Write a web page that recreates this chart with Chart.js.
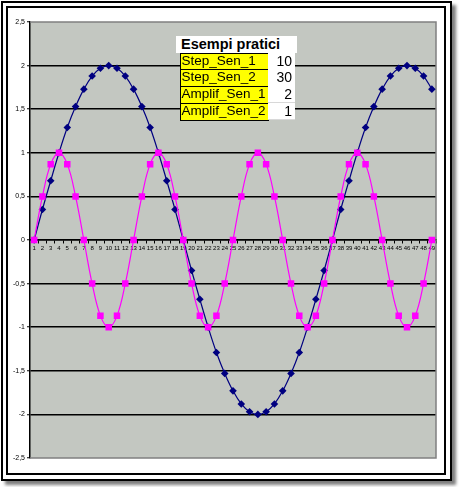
<!DOCTYPE html>
<html>
<head>
<meta charset="utf-8">
<script src="https://cdn.jsdelivr.net/npm/chart.js@4/dist/chart.umd.min.js"></script>
<style>
  html, body { margin:0; padding:0; background:#fff; width:459px; height:487px; overflow:hidden; }
  #outer { position:absolute; left:1px; top:1px; width:447px; height:476px; border:2px solid #000; box-shadow:4px 4px 3px rgba(0,0,0,0.5); background:#fff; }
  #inner { position:absolute; left:6px; top:6px; width:436px; height:465px; border:2px solid #000; background:#fff; }
  #cv { position:absolute; left:0; top:0; }
  .cell { position:absolute; box-sizing:border-box; font-family:"Liberation Sans", Arial, sans-serif; font-size:13.5px; color:#000; white-space:nowrap; line-height:14px; }
  .title { background:#fff; font-weight:bold; font-size:14.5px; padding-left:5px; line-height:17px; }
  .lab { background:#ffff00; border:1px solid #000; padding-left:1px; }
  .val { background:#fff; border-bottom:1px solid #d8d8d8; text-align:right; padding-right:3px; font-size:14px; padding-top:1px; }
</style>
</head>
<body>
<div id="outer"></div>
<div id="inner"></div>
<canvas id="cv" width="459" height="487"></canvas>
<div id="tbl"></div>
<script>
// ---- data ----
const categories = ['1','2','3','4','5','6','7','8','9','10','11','12','13','14','15','16','17','18','19','20','21','22','23','24','25','26','27','28','29','30','31','32','33','34','35','36','37','38','39','40','41','42','43','44','45','46','47','48','49'];
const seriesSen1 = [0,0.35,0.68,1.00,1.29,1.53,1.73,1.88,1.97,2.00,1.97,1.88,1.73,1.53,1.29,1.00,0.68,0.35,0,
  -0.35,-0.68,-1.00,-1.29,-1.53,-1.73,-1.88,-1.97,-2.00,-1.97,-1.88,-1.73,-1.53,-1.29,-1.00,-0.68,-0.35,0,
  0.35,0.68,1.00,1.29,1.53,1.73,1.88,1.97,2.00,1.97,1.88,1.73];
const seriesSen2 = [0,0.5,0.87,1,0.87,0.5,0,-0.5,-0.87,-1,-0.87,-0.5,
  0,0.5,0.87,1,0.87,0.5,0,-0.5,-0.87,-1,-0.87,-0.5,
  0,0.5,0.87,1,0.87,0.5,0,-0.5,-0.87,-1,-0.87,-0.5,
  0,0.5,0.87,1,0.87,0.5,0,-0.5,-0.87,-1,-0.87,-0.5,0];
const yTicks = [-2.5,-2,-1.5,-1,-0.5,0,0.5,1,1.5,2,2.5];
const tableTitle = 'Esempi pratici';
const tableLabels = ['Step_Sen_1','Step_Sen_2','Amplif_Sen_1','Amplif_Sen_2'];
const tableValues = [10,30,2,1];

// ---- table overlay ----
(function(){
  const t = document.getElementById('tbl');
  const mk = (cls, txt, l, tp, w, h) => {
    const d = document.createElement('div');
    d.className = 'cell ' + cls; d.textContent = txt;
    d.style.left = l+'px'; d.style.top = tp+'px'; d.style.width = w+'px'; d.style.height = h+'px';
    t.appendChild(d);
  };
  mk('title', tableTitle, 176, 36, 121, 17);
  const rowTops = [52.5, 69.3, 86.1, 102.9];
  tableLabels.forEach((lb, i) => {
    mk('lab', lb, 179.5, rowTops[i], 89, 17.8);
    mk('val', String(tableValues[i]), 268, rowTops[i], 27, 17.3);
  });
})();

// ---- chart ----
const plotBg = {
  id:'plotBg',
  beforeDraw(chart){
    const {ctx, chartArea:a} = chart;
    ctx.save(); ctx.fillStyle = '#c3c7c1';
    ctx.fillRect(a.left, a.top, a.right-a.left, a.bottom-a.top);
    ctx.restore();
  },
  beforeDatasetsDraw(chart){
    const {ctx, chartArea:a} = chart;
    ctx.save(); ctx.strokeStyle = '#808080'; ctx.lineWidth = 1.5;
    ctx.beginPath();
    ctx.moveTo(a.left, a.top); ctx.lineTo(a.right, a.top); ctx.lineTo(a.right, a.bottom); ctx.lineTo(a.left, a.bottom);
    ctx.stroke(); ctx.restore();
  }
};

new Chart(document.getElementById('cv'), {
  type:'line',
  data:{
    labels: categories,
    datasets:[
      { label:'Sen_1', data: seriesSen1, borderColor:'#000080', backgroundColor:'#000080', borderWidth:1.2,
        pointStyle:'rectRot', pointRadius:3.8, pointBorderWidth:0, tension:0.4, order:2 },
      { label:'Sen_2', data: seriesSen2, borderColor:'#ff00ff', backgroundColor:'#ff00ff', borderWidth:1.2,
        pointStyle:'rect', pointRadius:4.6, pointBorderWidth:0, tension:0.4, order:1 }
    ]
  },
  options:{
    responsive:false, animation:false, devicePixelRatio:1,
    layout:{ padding:{ left:0, top:22, right:23, bottom:29 } },
    plugins:{ legend:{display:false}, tooltip:{enabled:false} },
    scales:{
      x:{
        type:'category', offset:true, position:{ y:0 },
        grid:{ display:true, drawOnChartArea:false, drawTicks:true, tickLength:3, offset:true, color:'#000' },
        border:{ display:true, color:'#000', width:1.5 },
        ticks:{ autoSkip:false, maxRotation:0, minRotation:0, padding:2, color:'#000', font:{ family:'Liberation Sans', size:6 } }
      },
      y:{
        min:-2.5, max:2.5,
        afterBuildTicks(s){ s.ticks = yTicks.map(v => ({value:v})); },
        afterFit(s){ s.width = 30; },
        grid:{ color:(c) => (c.tick && Math.abs(c.tick.value) === 2.5) ? 'rgba(0,0,0,0)' : '#000', lineWidth:1.5,
               drawTicks:true, tickLength:3, tickColor:'#000', tickWidth:1 },
        border:{ display:true, color:'#000', width:1.5 },
        ticks:{ padding:2, color:'#000', font:{ family:'Liberation Sans', size:7 },
                callback:(v) => String(v).replace('.', ',') }
      }
    }
  },
  plugins:[plotBg]
});
</script>
</body>
</html>
